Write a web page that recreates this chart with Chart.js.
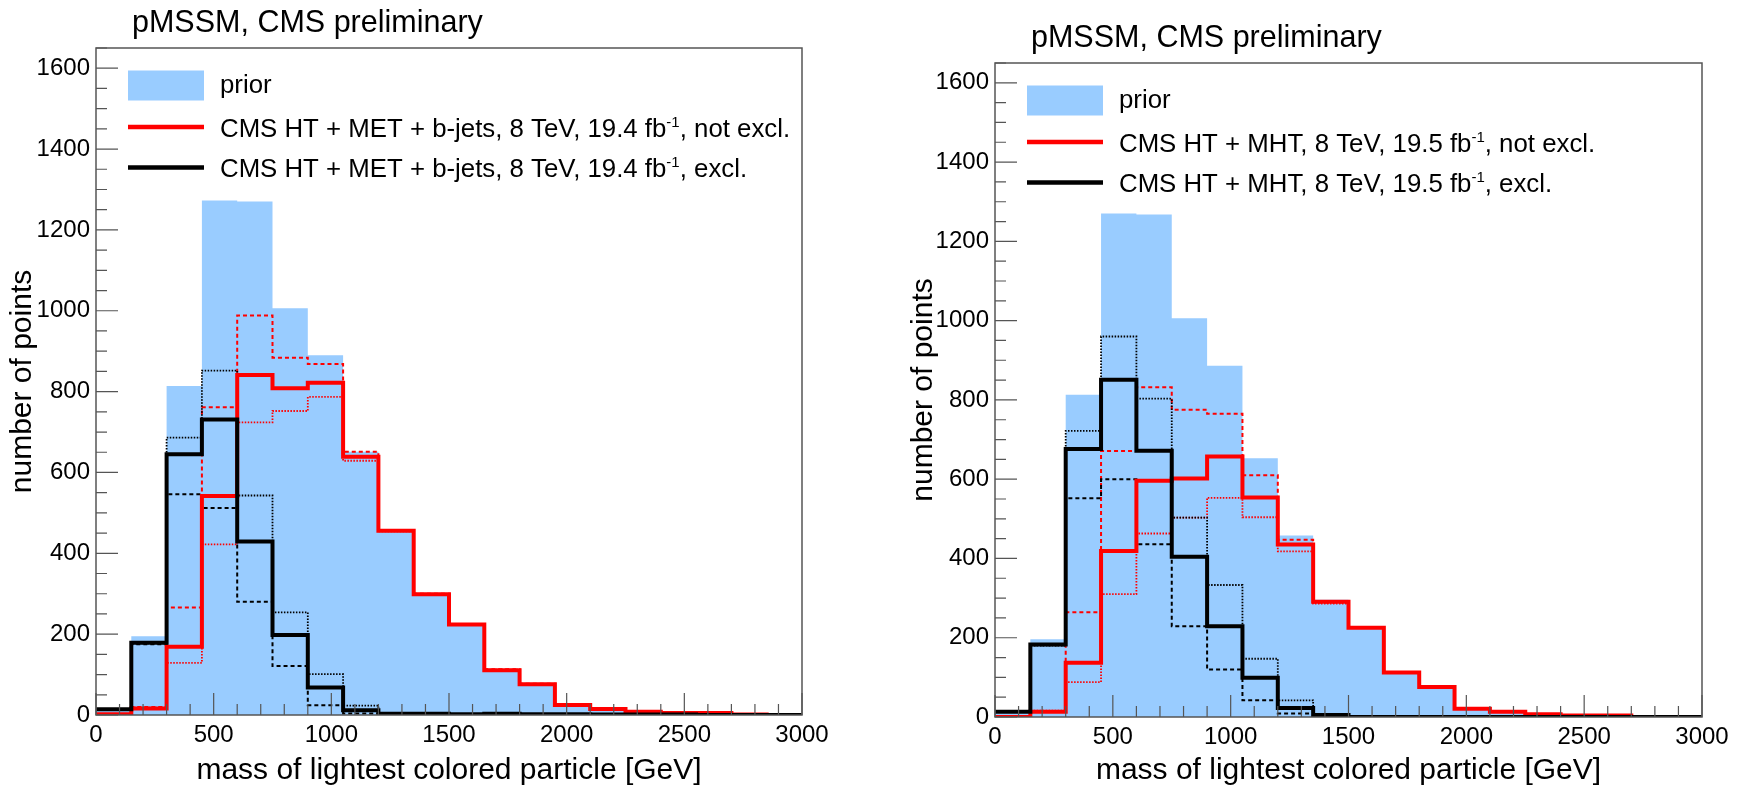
<!DOCTYPE html>
<html>
<head>
<meta charset="utf-8">
<script src="https://cdn.jsdelivr.net/npm/chart.js@4.4.1/dist/chart.umd.min.js"></script>
<style>
  body { margin: 0; background: #fff; width: 1737px; height: 791px; overflow: hidden; position: relative; }
  canvas { position: absolute; top: 0; }
  #leftChart { left: 0; }
  #rightChart { left: 899px; }
</style>
</head>
<body>
<canvas id="leftChart" width="899" height="791"></canvas>
<canvas id="rightChart" width="838" height="791"></canvas>
<script>
// bin low edges [GeV], 150 GeV bins
var binEdges = [0, 150, 300, 450, 600, 750, 900, 1050, 1200, 1350, 1500, 1650, 1800, 1950, 2100, 2250, 2400, 2550, 2700, 2850];
var xMax = 3000;
var yTickLabels = [0, 200, 400, 600, 800, 1000, 1200, 1400, 1600];
var xTickLabels = [0, 500, 1000, 1500, 2000, 2500, 3000];

// left: CMS HT + MET + b-jets
var priorL      = [16, 195, 814, 1273, 1270, 1006, 890, 651, 459, 302, 226, 114, 78, 27, 16, 9, 6, 5, 1, 0];
var notExclL    = [2, 16, 169, 542, 841, 808, 822, 639, 456, 299, 224, 111, 76, 25, 15, 8, 5, 5, 1, 0];
var exclL       = [14, 179, 645, 731, 429, 198, 68, 12, 3, 3, 2, 3, 2, 2, 1, 1, 1, 0, 0, 0];
var notExclDashL = [1, 20, 266, 761, 988, 884, 868, 651, 457, 300, 225, 113, 77, 26, 16, 9, 6, 5, 1, 0];
var exclDashL    = [15, 175, 546, 512, 280, 121, 24, 4, 2, 2, 1, 1, 1, 1, 0, 0, 0, 0, 0, 0];
var notExclDotL  = [1, 18, 129, 422, 724, 752, 787, 629, 454, 298, 224, 112, 77, 26, 16, 9, 6, 5, 1, 0];
var exclDotL     = [15, 177, 686, 852, 543, 254, 101, 23, 5, 4, 2, 2, 1, 1, 0, 0, 0, 0, 0, 0];

// right: CMS HT + MHT
var priorR      = [13, 196, 813, 1270, 1268, 1006, 886, 653, 458, 296, 225, 112, 76, 21, 13, 7, 4, 4, 0, 0];
var notExclR    = [0, 13, 137, 419, 596, 602, 657, 554, 435, 291, 225, 112, 76, 21, 13, 7, 4, 4, 0, 0];
var exclR       = [13, 183, 676, 851, 672, 404, 229, 99, 23, 5, 0, 0, 0, 0, 0, 0, 0, 0, 0, 0];
var notExclDashR = [0, 15, 264, 671, 832, 775, 765, 610, 447, 289, 225, 112, 76, 21, 13, 7, 4, 4, 0, 0];
var exclDashR    = [13, 181, 552, 600, 436, 229, 120, 42, 9, 2, 0, 0, 0, 0, 0, 0, 0, 0, 0, 0];
var notExclDotR  = [0, 16, 88, 310, 463, 503, 553, 504, 418, 286, 224, 112, 76, 21, 13, 7, 4, 4, 0, 0];
var exclDotR     = [13, 180, 722, 960, 803, 503, 333, 147, 42, 8, 1, 0, 0, 0, 0, 0, 0, 0, 0, 0];

var priorColor = '#99ccff';
var FONT = '"Liberation Sans", Arial, sans-serif';

function toPoints(values) {
	var pts = binEdges.map(function (e, i) { return { x: e, y: values[i] }; });
	pts.push({ x: xMax, y: values[values.length - 1] });
	return pts;
}

function histLine(values, color, width, dash) {
	return {
		data: toPoints(values),
		stepped: true,
		borderColor: color,
		borderWidth: width,
		borderDash: dash,
		pointRadius: 0,
		fill: false,
		tension: 0
	};
}

function makePanel(canvasId, p) {
	var datasets = [
		histLine(p.excl, '#000', 4, []),
		histLine(p.notExcl, '#ff0000', 4, []),
		histLine(p.exclDot, '#000', 1.8, [1.5, 1.5]),
		histLine(p.notExclDot, '#ff0000', 1.8, [1.5, 1.5]),
		histLine(p.exclDash, '#000', 2, [4, 3]),
		histLine(p.notExclDash, '#ff0000', 2, [4, 3]),
		{
			data: toPoints(p.prior),
			stepped: true,
			borderWidth: 0,
			borderColor: priorColor,
			backgroundColor: priorColor,
			pointRadius: 0,
			fill: 'origin'
		}
	];

	// ROOT-like frame, inner ticks, title and legend
	var rootLook = {
		id: 'rootLook',
		afterDraw: function (chart) {
			var ctx = chart.ctx, a = chart.chartArea;
			var xs = chart.scales.x, ys = chart.scales.y;
			ctx.save();
			ctx.strokeStyle = '#555';
			ctx.lineWidth = 1.5;
			ctx.strokeRect(a.left, a.top, a.right - a.left, a.bottom - a.top);
			ctx.lineWidth = 1.2;
			ctx.beginPath();
			for (var v = 0; v <= 1650; v += 50) {
				var py = ys.getPixelForValue(v);
				var len = (v % 200 === 0) ? 22 : 11;
				ctx.moveTo(a.left, py); ctx.lineTo(a.left + len, py);
			}
			for (var u = 0; u <= xMax; u += 100) {
				var px = xs.getPixelForValue(u);
				var l2 = (u % 500 === 0) ? 22 : 11;
				ctx.moveTo(px, a.bottom); ctx.lineTo(px, a.bottom - l2);
			}
			ctx.stroke();

			// title
			ctx.fillStyle = '#000';
			ctx.font = '30.5px ' + FONT;
			ctx.textBaseline = 'alphabetic';
			ctx.textAlign = 'left';
			ctx.fillText('pMSSM, CMS preliminary', a.left + 36, a.top - 16);

			// legend
			var x0 = a.left + 32, tx = a.left + 124;
			var rows = [a.top + 37.5, a.top + 79, a.top + 119.5];
			ctx.fillStyle = priorColor;
			ctx.fillRect(x0, rows[0] - 15, 76, 30);
			ctx.lineWidth = 4.5;
			ctx.strokeStyle = '#ff0000';
			ctx.beginPath(); ctx.moveTo(x0, rows[1]); ctx.lineTo(x0 + 76, rows[1]); ctx.stroke();
			ctx.strokeStyle = '#000';
			ctx.beginPath(); ctx.moveTo(x0, rows[2]); ctx.lineTo(x0 + 76, rows[2]); ctx.stroke();

			ctx.fillStyle = '#000';
			ctx.font = '25.8px ' + FONT;
			ctx.fillText('prior', tx, rows[0] + 7);
			var ends = [', not excl.', ', excl.'];
			for (var i = 0; i < 2; i++) {
				var by = rows[i + 1] + 9.5;
				ctx.font = '25.8px ' + FONT;
				ctx.fillText(p.label, tx, by);
				var w = ctx.measureText(p.label).width;
				ctx.font = '15px ' + FONT;
				ctx.fillText('-1', tx + w, by - 10);
				var w2 = ctx.measureText('-1').width;
				ctx.font = '25.8px ' + FONT;
				ctx.fillText(ends[i], tx + w + w2, by);
			}
			ctx.restore();
		}
	};

	return new Chart(document.getElementById(canvasId), {
		type: 'line',
		data: { datasets: datasets },
		plugins: [rootLook],
		options: {
			responsive: false,
			animation: false,
			devicePixelRatio: 1,
			layout: { padding: { top: p.padTop, right: p.padRight, bottom: 0, left: 0 } },
			plugins: { legend: { display: false }, tooltip: { enabled: false }, title: { display: false } },
			scales: {
				x: {
					type: 'linear',
					min: 0,
					max: xMax,
					afterFit: function (s) { s.height = p.xHeight; },
					afterBuildTicks: function (s) { s.ticks = xTickLabels.map(function (v) { return { value: v }; }); },
					ticks: {
						padding: 6, maxRotation: 0, autoSkip: false,
						color: '#000', font: { family: FONT, size: 24 },
						callback: function (v) { return String(v); }
					},
					grid: { display: false, drawTicks: false },
					border: { display: false },
					title: {
						display: true, text: 'mass of lightest colored particle [GeV]',
						color: '#000', font: { family: FONT, size: 30 },
						padding: { top: 0, bottom: 2 }
					}
				},
				y: {
					min: 0,
					max: 1650,
					afterFit: function (s) { s.width = 96; },
					afterBuildTicks: function (s) { s.ticks = yTickLabels.map(function (v) { return { value: v }; }); },
					ticks: {
						padding: 6, autoSkip: false,
						color: '#000', font: { family: FONT, size: 24 },
						callback: function (v) { return String(v); }
					},
					grid: { display: false, drawTicks: false },
					border: { display: false },
					title: {
						display: true, text: 'number of points',
						color: '#000', font: { family: FONT, size: 30 },
						padding: { top: p.yTitlePad, bottom: 0 }
					}
				}
			}
		}
	});
}

makePanel('leftChart', {
	prior: priorL, notExcl: notExclL, excl: exclL,
	notExclDash: notExclDashL, exclDash: exclDashL, notExclDot: notExclDotL, exclDot: exclDotL,
	label: 'CMS HT + MET + b-jets, 8 TeV, 19.4 fb',
	padTop: 48, padRight: 97, xHeight: 76, yTitlePad: 5
});

makePanel('rightChart', {
	prior: priorR, notExcl: notExclR, excl: exclR,
	notExclDash: notExclDashR, exclDash: exclDashR, notExclDot: notExclDotR, exclDot: exclDotR,
	label: 'CMS HT + MHT, 8 TeV, 19.5 fb',
	padTop: 63, padRight: 35, xHeight: 74, yTitlePad: 7
});
</script>
</body>
</html>
